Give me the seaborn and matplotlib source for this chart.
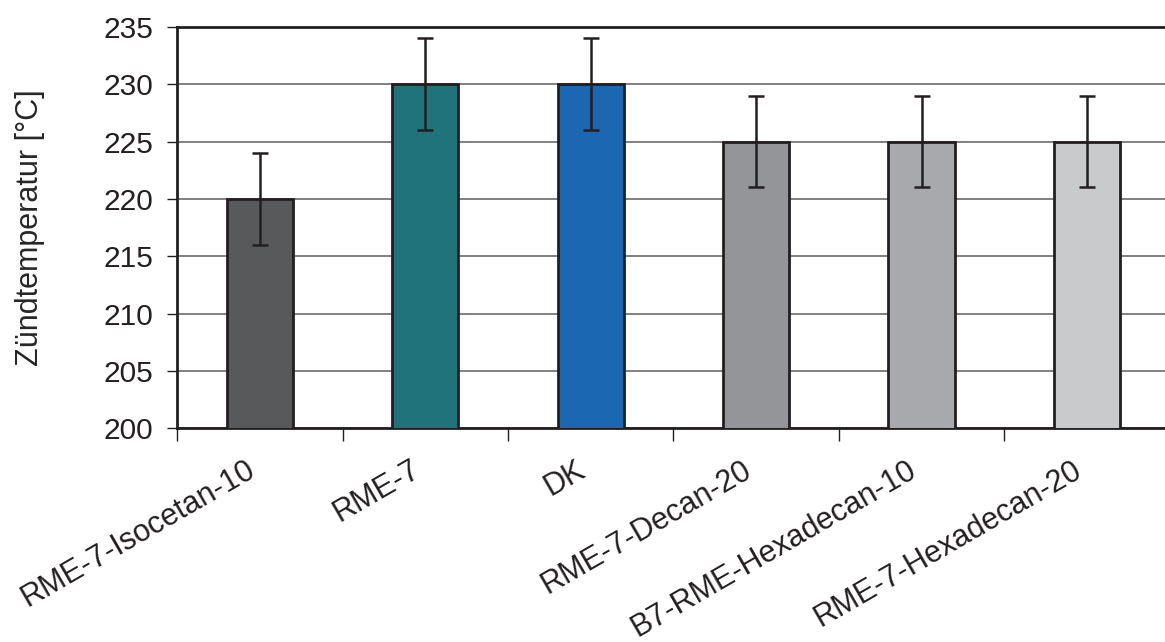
import matplotlib
matplotlib.use("Agg")
import matplotlib.pyplot as plt
import matplotlib.transforms as mtransforms
import seaborn as sns
import pandas as pd
import numpy as np

# Daten
kraftstoffe = ["RME-7-Isocetan-10", "RME-7", "DK", "RME-7-Decan-20",
               "B7-RME-Hexadecan-10", "RME-7-Hexadecan-20"]
zuendtemp = [220, 230, 230, 225, 225, 225]
fehler = [4, 4, 4, 4, 4, 4]
farben = ["#58595b", "#20737a", "#1b67b1", "#939598", "#a7a9ac", "#c9cacc"]
y_ticks = [200, 205, 210, 215, 220, 225, 230, 235]

sns.set_style("white")
plt.rcParams['font.family'] = ['Liberation Sans', 'DejaVu Sans']

df = pd.DataFrame({"Kraftstoff": kraftstoffe, "Temp": zuendtemp})

fig = plt.figure(figsize=(11.65, 6.42), dpi=100)
ax = fig.add_axes([0.152, 0.333, 0.852, 0.625])

sns.barplot(data=df, x="Kraftstoff", y="Temp", hue="Kraftstoff",
            palette=farben, saturation=1, width=0.4, edgecolor="#231f20",
            linewidth=2, errorbar=None, legend=False, ax=ax, zorder=3)
ax.errorbar(np.arange(len(kraftstoffe)), zuendtemp, yerr=fehler, fmt="none",
            ecolor="#231f20", elinewidth=1.8, capsize=5.5, capthick=1.8, zorder=4)

ax.set_ylim(200, 235)
ax.set_xlim(-0.5, 5.5)
ax.set_yticks(y_ticks)
ax.grid(axis="y", color="#808080", linewidth=1.4, zorder=0)
ax.set_axisbelow(True)

for s in ["left", "bottom", "top"]:
    ax.spines[s].set_color("#231f20")
    ax.spines[s].set_linewidth(2)
ax.spines["right"].set_visible(False)

ax.tick_params(axis="y", direction="out", length=7, width=1, color="#231f20",
               labelsize=21.5, pad=10, left=True)
ax.tick_params(axis="x", which="major", length=0, labelsize=22, pad=4)
ax.set_xticks(np.arange(-0.5, 5.0, 1.0), minor=True)
ax.tick_params(axis="x", which="minor", direction="out", length=9, width=1,
               color="#231f20", bottom=True)

ax.set_xlabel("")
ax.set_ylabel("Zündtemperatur [°C]", fontsize=22, labelpad=42)

offset = mtransforms.ScaledTranslation(-0.07, -0.34, fig.dpi_scale_trans)
for lab in ax.get_xticklabels():
    lab.set_rotation(30)
    lab.set_ha("right")
    lab.set_va("center")
    lab.set_rotation_mode("anchor")
    lab.set_color("#231f20")
    lab.set_transform(lab.get_transform() + offset)
for lab in ax.get_yticklabels():
    lab.set_color("#231f20")

fig.savefig("out.png", dpi=100)
